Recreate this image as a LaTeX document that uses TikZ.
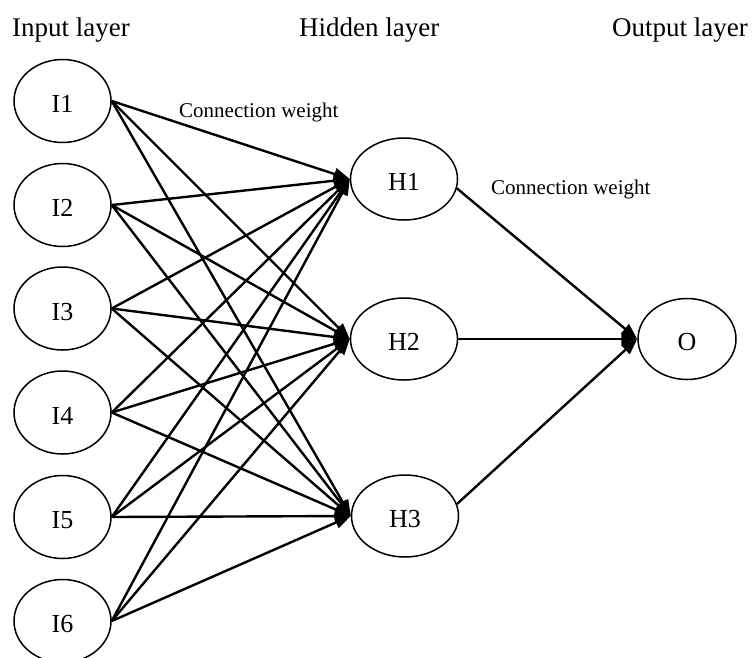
\documentclass[tikz,border=0pt]{standalone}
\usepackage{fontspec}
\setmainfont{Liberation Serif}
\usetikzlibrary{shapes.geometric,arrows.meta}

\begin{document}
\begin{tikzpicture}[x=1pt,y=-1pt,
  neuron/.style={ellipse,draw,line width=1.5pt,inner sep=0pt,
    text height=23pt,text depth=0pt,
    font=\fontsize{26}{28}\selectfont},
  inneuron/.style={neuron,minimum width=97pt,minimum height=83pt},
  hidneuron/.style={neuron,minimum width=107pt,minimum height=82pt},
  outneuron/.style={neuron,minimum width=98pt,minimum height=81pt},
  title/.style={anchor=base west,inner sep=0pt,font=\fontsize{27}{30}\selectfont},
  weightlabel/.style={anchor=base west,inner sep=0pt,font=\fontsize{21}{24}\selectfont},
  link/.style={line width=2.4pt,-{Triangle[length=16pt,width=12pt]}}
]
\path[use as bounding box,clip] (0,0) rectangle (754,657);

% layer headings
\node[title] (tin)  at (12,36)  {Input layer};
\node[title] (thid) at (299,36) {Hidden layer};
\node[title] (tout) at (612,36) {Output layer};

% input layer
\node[inneuron] (I1) at (62.5,101)   {I1};
\node[inneuron] (I2) at (62.5,205)   {I2};
\node[inneuron] (I3) at (62.5,308.5) {I3};
\node[inneuron] (I4) at (62.5,412.5) {I4};
\node[inneuron] (I5) at (62.5,517)   {I5};
\node[inneuron] (I6) at (62.5,621)   {I6};

% hidden layer
\node[hidneuron] (H1) at (404,179) {H1};
\node[hidneuron] (H2) at (404,339) {H2};
\node[hidneuron] (H3) at (405,516) {H3};

% output layer
\node[outneuron] (O) at (687,339) {O};

% weight labels
\node[weightlabel] (w1) at (179,117) {Connection weight};
\node[weightlabel] (w2) at (491,194) {Connection weight};

% input -> hidden connections
\foreach \i in {1,...,6}{
  \foreach \h in {1,2,3}{
    \draw[link] (I\i.east) -- (H\h.west);
  }
}

% hidden -> output connections
\draw[link] (H1.-10) -- (O.west);
\draw[link] (H2.east) -- (O.west);
\draw[link] (H3.13) -- (O.west);
\end{tikzpicture}
\end{document}
